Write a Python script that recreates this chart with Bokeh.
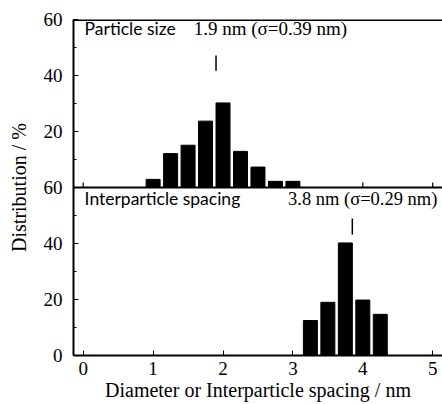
from bokeh.plotting import figure
from bokeh.models import Range1d, FixedTicker, Span, Label, ColumnDataSource
from bokeh.embed import file_html
from bokeh.resources import INLINE

# Particle size histogram (top panel), % vs diameter (nm)
size_bins = [1.0, 1.25, 1.5, 1.75, 2.0, 2.25, 2.5, 2.75, 3.0]
size_pct = [2.9, 12.1, 15.1, 23.7, 30.2, 12.9, 7.3, 2.2, 2.2]

# Interparticle spacing histogram (bottom panel)
spacing_bins = [3.25, 3.5, 3.75, 4.0, 4.25]
spacing_pct = [12.5, 19.0, 40.2, 19.8, 14.7]

# Mean markers
size_mean = 1.9
spacing_mean = 3.85

x_ticks = [0, 1, 2, 3, 4, 5]
y_ticks = [0, 20, 40, 60, 80, 100, 120]
y_tick_labels = ["0", "20", "40", "60", "20", "40", "60"]
panel_offset = 60  # top panel stacked above bottom panel

p = figure(width=442, height=404, output_backend="svg", toolbar_location=None,
           x_range=Range1d(-0.139, 5.14), y_range=Range1d(0, 120))
p.min_border_left = 73
p.min_border_right = 0
p.min_border_top = 19
p.min_border_bottom = 49
p.outline_line_color = None
p.grid.visible = False
p.background_fill_color = "white"
p.border_fill_color = "white"

top_src = ColumnDataSource(dict(x=size_bins, top=[v + panel_offset for v in size_pct]))
p.vbar(x="x", top="top", bottom=panel_offset, width=0.2, source=top_src,
       fill_color="black", line_color="black")
bot_src = ColumnDataSource(dict(x=spacing_bins, top=spacing_pct))
p.vbar(x="x", top="top", bottom=0, width=0.2, source=bot_src,
       fill_color="black", line_color="black")

# middle axis line and its ticks
p.add_layout(Span(location=panel_offset, dimension="width", line_color="black", line_width=2))
p.add_layout(Span(location=120, dimension="width", line_color="black", line_width=3))
p.segment(x0=x_ticks, y0=[panel_offset] * len(x_ticks), x1=x_ticks,
          y1=[panel_offset + 1.8] * len(x_ticks), line_color="black", line_width=1.2)

# mean markers
p.segment(x0=[size_mean], y0=[panel_offset + 41.7], x1=[size_mean], y1=[panel_offset + 47.1],
          line_color="black", line_width=1.5)
p.segment(x0=[spacing_mean], y0=[43.2], x1=[spacing_mean], y1=[48.9],
          line_color="black", line_width=1.5)

sans = "Lato"
serif = "'Liberation Serif', 'Times New Roman', Times, serif"
p.add_layout(Label(x=0.02, y=panel_offset + 52.9, text="Particle size",
                   text_font=sans, text_font_size="17.5px", text_color="black"))
p.add_layout(Label(x=1.58, y=panel_offset + 52.9, text="1.9 nm (σ=0.39 nm)",
                   text_font=serif, text_font_size="19px", text_color="black"))
p.add_layout(Label(x=0.02, y=52.2, text="Interparticle spacing",
                   text_font=sans, text_font_size="17.5px", text_color="black"))
p.add_layout(Label(x=2.93, y=52.2, text="3.8 nm (σ=0.29 nm)",
                   text_font=serif, text_font_size="18.5px", text_color="black"))

# axes
xa = p.xaxis[0]
xa.ticker = FixedTicker(ticks=x_ticks)
xa.axis_line_width = 2
xa.major_tick_in = 5
xa.major_tick_out = 0
xa.minor_tick_line_color = None
xa.major_label_standoff = 6
xa.major_label_text_font = serif
xa.major_label_text_font_size = "19px"
xa.major_label_text_color = "black"
xa.axis_label = "Diameter or Interparticle spacing / nm"
xa.axis_label_text_font = serif
xa.axis_label_text_font_size = "20px"
xa.axis_label_text_font_style = "normal"
xa.axis_label_text_color = "black"
xa.axis_label_standoff = 1

ya = p.yaxis[0]
ya.ticker = FixedTicker(ticks=y_ticks, minor_ticks=[10, 30, 50, 70, 90, 110])
ya.major_label_overrides = {t: l for t, l in zip(y_ticks, y_tick_labels)}
ya.axis_line_width = 2
ya.major_tick_in = 5
ya.major_tick_out = 0
ya.minor_tick_in = 3
ya.minor_tick_out = 0
ya.major_label_standoff = 11
ya.major_label_text_font = serif
ya.major_label_text_font_size = "19px"
ya.major_label_text_color = "black"
ya.axis_label = "Distribution / %"
ya.axis_label_text_font = serif
ya.axis_label_text_font_size = "20px"
ya.axis_label_text_font_style = "normal"
ya.axis_label_text_color = "black"
ya.axis_label_standoff = 11

open("out.html", "w").write(file_html(p, INLINE))
